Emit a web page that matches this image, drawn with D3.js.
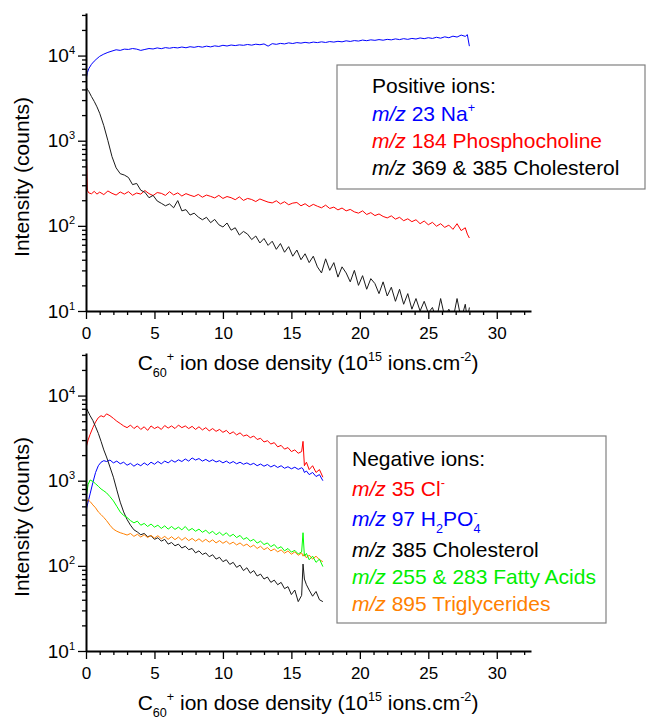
<!DOCTYPE html>
<html>
<head>
<meta charset="utf-8">
<script src="https://cdn.jsdelivr.net/npm/d3@7"></script>
<style>
  body { margin: 0; background: #fff; }
  svg { display: block; font-family: "Liberation Sans", Arial, sans-serif; }
</style>
</head>
<body>
<div id="chart"></div>
<script>
// ---- data ----
// upper panel: positive ions (dose in 1e15 ions/cm2, intensity in counts)
const doseTop = [0, 0.1, 0.2, 0.4, 0.6, 0.8, 1.0, 1.3, 1.6, 1.9, 2.2, 2.5, 2.8,
  3.1, 3.4, 3.7, 4.0, 4.3, 4.6, 4.9, 5.2, 5.5, 5.8, 6.1, 6.4, 6.7, 7.0, 7.3, 7.6, 7.9,
  8.2, 8.5, 8.8, 9.1, 9.4, 9.7, 10.0, 10.3, 10.6, 10.9, 11.2, 11.5, 11.8, 12.1, 12.4, 12.7,
  13.0, 13.3, 13.6, 13.9, 14.2, 14.5, 14.8, 15.1, 15.4, 15.7, 16.0, 16.3, 16.6, 16.9,
  17.2, 17.5, 17.8, 18.1, 18.4, 18.7, 19.0, 19.3, 19.6, 19.9, 20.2, 20.5, 20.8, 21.1,
  21.4, 21.7, 22.0, 22.3, 22.6, 22.9, 23.2, 23.5, 23.8, 24.1, 24.4, 24.7, 25.0, 25.3,
  25.6, 25.9, 26.2, 26.5, 26.8, 27.1, 27.4, 27.7, 27.85, 28.0]

const naTop = [5200, 6300, 7000, 7900, 8600, 9200, 9800, 10400, 10900, 11300, 11700, 11500, 11900,
  11800, 12100, 11900, 11500, 11800, 12100, 11950, 12300, 12050, 12400, 12200, 12450, 12300, 12600, 12350, 12700, 12500,
  12800, 12550, 12900, 12650, 13000, 12800, 13200, 12950, 13300, 13100, 13350, 13200, 13500, 13250, 13600, 13400,
  13700, 12900, 13800, 13550, 13900, 13700, 14100, 13850, 14200, 14000, 14300, 14050, 14400, 14200,
  14500, 14250, 14600, 14400, 14700, 14500, 14900, 14650, 15000, 14800, 15200, 14950, 15300, 15100,
  15400, 15150, 15500, 15300, 15700, 15400, 15800, 15500, 15900, 15650, 16100, 15800, 16200, 15900,
  16400, 16000, 16600, 16200, 16900, 16500, 17400, 16800, 17600, 12900]

const phosphoTop = [1000, 262, 244, 238, 254, 236, 249, 233, 257, 241, 230, 250, 236,
  252, 229, 243, 236, 260, 239, 227, 246, 241, 228, 252, 231, 244, 224, 239, 229, 221,
  234, 217, 230, 222, 213, 228, 210, 221, 214, 203, 219, 199, 210, 204, 193, 207,
  198, 190, 186, 197, 181, 192, 177, 185, 188, 172, 182, 168, 179, 170, 163, 175,
  160, 166, 154, 162, 150, 156, 146, 141, 150, 136, 143, 132, 138, 129, 124, 131,
  120, 126, 115, 121, 112, 118, 106, 114, 103, 110, 99, 106, 96, 102, 91, 106, 88, 95,
  80, 72]

const cholTop = [4300, 4000, 3800, 3300, 2900, 2500, 2100, 1500, 1000, 650, 480, 410, 395,
  370, 305, 315, 262, 248, 214, 228, 196, 184, 172, 181, 163, 198, 150, 155, 134, 141,
  127, 118, 126, 109, 119, 103, 97, 108, 89, 95, 78, 86, 80, 69, 76, 63,
  71, 59, 66, 53, 62, 49, 57, 44, 52, 40, 47, 37, 44, 33, 28, 41,
  30, 37, 25, 33, 28, 22, 30, 20, 26, 18, 24, 21, 16, 22, 15, 19,
  13, 18, 12, 16, 10.5, 14, 10, 13, 9.5, 11, 8, 14, 8.5, 10.5, 8, 14, 8, 12,
  8, 11]

// lower panel: negative ions
const doseBottom = [0, 0.05, 0.15, 0.3, 0.5, 0.7, 0.9, 1.1, 1.3, 1.5, 1.75, 2.0, 2.25, 2.5, 2.75, 3.0,
  3.25, 3.5, 3.75, 4.0, 4.25, 4.5, 4.75, 5.0, 5.25, 5.5, 5.75, 6.0, 6.25, 6.5, 6.75, 7.0,
  7.25, 7.5, 7.75, 8.0, 8.25, 8.5, 8.75, 9.0, 9.25, 9.5, 9.75, 10.0, 10.25, 10.5, 10.75, 11.0,
  11.25, 11.5, 11.75, 12.0, 12.25, 12.5, 12.75, 13.0, 13.25, 13.5, 13.75, 14.0, 14.25, 14.5,
  14.75, 15.0, 15.25, 15.5, 15.75, 15.85, 15.95, 16.1, 16.3, 16.55, 16.8, 17.05, 17.3]

const clBottom = [2300, 2600, 3000, 3500, 4200, 4900, 5500, 5800, 5600, 6100, 5800, 5400, 5000, 4700, 4400, 4200,
  4500, 4100, 4400, 4000, 4300, 3900, 4400, 4100, 4300, 4000, 4450, 4150, 4400, 4100, 4500, 4200,
  4400, 4100, 4350, 4000, 4300, 3950, 4200, 3850, 4100, 3800, 4000, 3700, 3900, 3550, 3750, 3450,
  3650, 3350, 3450, 3200, 3350, 3050, 3150, 2850, 2950, 2700, 2800, 2500, 2600, 2350,
  2450, 2200, 2300, 2100, 2200, 2900, 1500, 1650, 1350, 1500, 1250, 1350, 1100]

const h2po4Bottom = [420, 480, 560, 700, 950, 1250, 1500, 1650, 1720, 1680, 1750, 1620, 1700, 1580, 1650, 1520,
  1600, 1480, 1580, 1500, 1620, 1520, 1650, 1560, 1680, 1580, 1700, 1620, 1740, 1650, 1760, 1680,
  1800, 1700, 1850, 1750, 1820, 1700, 1780, 1680, 1760, 1660, 1720, 1620, 1700, 1600, 1680, 1580,
  1650, 1560, 1620, 1540, 1600, 1500, 1570, 1480, 1550, 1450, 1520, 1430, 1500, 1400,
  1460, 1380, 1440, 1360, 1420, 1380, 1250, 1300, 1180, 1250, 1120, 1180, 1000]

const cholBottom = [7300, 7000, 6500, 5800, 5100, 4300, 3600, 2900, 2300, 1900, 1450, 1100, 780, 560, 430, 350,
  300, 265, 250, 232, 240, 220, 226, 205, 214, 195, 205, 180, 188, 172, 180, 162,
  170, 155, 160, 142, 150, 136, 142, 128, 135, 120, 126, 112, 118, 104, 110, 96,
  102, 88, 95, 82, 88, 76, 80, 70, 74, 64, 68, 60, 64, 54,
  57, 46, 52, 38, 45, 105, 70, 60, 52, 44, 50, 40, 38]

const fattyBottom = [2200, 700, 900, 1020, 980, 920, 860, 800, 760, 720, 650, 580, 500, 430, 390, 370,
  340, 320, 335, 300, 315, 290, 310, 285, 300, 275, 295, 270, 290, 268, 285, 265,
  290, 260, 275, 255, 270, 248, 262, 240, 255, 232, 248, 228, 245, 222, 235, 215,
  228, 205, 215, 195, 205, 185, 195, 178, 186, 168, 178, 160, 168, 150,
  160, 145, 152, 138, 146, 245, 130, 140, 118, 130, 110, 120, 98]

const trigBottom = [440, 560, 600, 570, 520, 480, 430, 400, 370, 340, 300, 270, 255, 245, 238, 230,
  240, 222, 235, 218, 232, 215, 228, 212, 226, 208, 222, 205, 220, 203, 218, 200,
  215, 198, 210, 195, 208, 192, 205, 190, 202, 186, 198, 184, 195, 180, 190, 176,
  186, 172, 180, 166, 175, 160, 170, 155, 164, 150, 158, 146, 154, 141,
  150, 137, 146, 133, 142, 130, 138, 124, 134, 120, 130, 118, 112]

// ticks
const xMajorTicks = [0, 5, 10, 15, 20, 25, 30]
const xMinorTicks = [1, 2, 3, 4, 6, 7, 8, 9, 11, 12, 13, 14, 16, 17, 18, 19, 21, 22, 23, 24, 26, 27, 28, 29, 31, 32]
const yMajorTicks = [10, 100, 1000, 10000]
const yMinorTicks = [20, 30, 40, 50, 60, 70, 80, 90, 200, 300, 400, 500, 600, 700, 800, 900,
  2000, 3000, 4000, 5000, 6000, 7000, 8000, 9000, 20000, 30000]

// legends (*...* italic, ^{} superscript, _{} subscript, ~{} superscript stacked on previous subscript)
const topLegendTitle = "Positive ions:"
const topLegendLabels = ["*m/z* 23 Na^{+}", "*m/z* 184 Phosphocholine", "*m/z* 369 & 385 Cholesterol"]
const topColors = ["#0000ff", "#ff0000", "#000000"]

const bottomLegendTitle = "Negative ions:"
const bottomLegendLabels = ["*m/z* 35 Cl^{-}", "*m/z* 97 H_{2}PO_{4}~{-}", "*m/z* 385 Cholesterol",
  "*m/z* 255 & 283 Fatty Acids", "*m/z* 895 Triglycerides"]
const bottomColors = ["#ff0000", "#0000ff", "#000000", "#00ee00", "#ff8000"]

const xTitle = "C_{60}^{+} ion dose density (10^{15} ions.cm^{-2})"
const yTitle = "Intensity (counts)"

// ---- drawing ----
const width = 648, height = 719

const svg = d3.select("#chart").append("svg")
    .attr("width", width)
    .attr("height", height)

const x = d3.scaleLinear().domain([0, 32.5]).range([86, 531])

function richText(sel, str, size) {
    const parts = str.split(/(\*[^*]+\*|\^\{[^}]*\}|_\{[^}]*\}|~\{[^}]*\})/).filter(s => s.length)
    let shift = 0, prevSub = null
    parts.forEach(p => {
        let target = 0, txt = p, small = false
        const kind = p[0]
        if (kind === "*") txt = p.slice(1, -1)
        else if (kind === "^" || kind === "~") { target = -0.42 * size; txt = p.slice(2, -1); small = true }
        else if (kind === "_") { target = 0.32 * size; txt = p.slice(2, -1); small = true }
        const ts = sel.append("tspan").attr("dy", target - shift).text(txt)
        if (small) ts.attr("font-size", size * 0.6)
        if (kind === "*") ts.attr("font-style", "italic")
        if (kind === "~" && prevSub) ts.attr("dx", -prevSub.node().getComputedTextLength())
        prevSub = kind === "_" ? ts : null
        shift = target
    })
}

function drawPanel(id, top, bottom, dose, series, legend) {
    const y = d3.scaleLog().domain([10, Math.pow(10, 4.5)]).range([bottom, top])
    const g = svg.append("g").attr("id", id)

    g.append("defs").append("clipPath").attr("id", id + "-clip")
        .append("rect")
        .attr("x", x.range()[0]).attr("y", top)
        .attr("width", x.range()[1] - x.range()[0]).attr("height", bottom - top)

    const line = d3.line()
        .x((d, i) => x(dose[i]))
        .y(d => y(d))

    g.append("g")
        .attr("clip-path", `url(#${id}-clip)`)
        .selectAll("path")
        .data(series)
        .join("path")
        .attr("d", d => line(d.values))
        .attr("fill", "none")
        .attr("stroke", d => d.color)
        .attr("stroke-width", 1)
        .attr("stroke-linejoin", "round")

    // x axis: minor then major
    g.append("g")
        .attr("transform", `translate(0,${bottom})`)
        .call(d3.axisBottom(x).tickValues(xMinorTicks).tickSize(4).tickFormat(""))
        .call(a => a.select(".domain").remove())
    const xa = g.append("g")
        .attr("transform", `translate(0,${bottom})`)
        .call(d3.axisBottom(x).tickValues(xMajorTicks).tickSize(8).tickSizeOuter(0).tickPadding(8))
    xa.select(".domain").attr("stroke-width", 2)
    xa.selectAll("text").attr("font-size", 17).attr("fill", "#000")
        .attr("font-family", "Liberation Sans, Arial, sans-serif")

    // y axis
    g.append("g")
        .attr("transform", `translate(${x.range()[0]},0)`)
        .call(d3.axisLeft(y).tickValues(yMinorTicks).tickSize(4).tickFormat(""))
        .call(a => a.select(".domain").remove())
    const ya = g.append("g")
        .attr("transform", `translate(${x.range()[0]},0)`)
        .call(d3.axisLeft(y).tickValues(yMajorTicks).tickSize(8).tickSizeOuter(0).tickPadding(3).tickFormat(""))
    ya.select(".domain").attr("stroke-width", 2)
    ya.selectAll("text")
        .attr("font-size", 19).attr("fill", "#000")
        .attr("font-family", "Liberation Sans, Arial, sans-serif")
        .each(function (d) {
            const t = d3.select(this)
            t.append("tspan").text("10")
            t.append("tspan").attr("dy", -8).attr("font-size", 11).text(Math.round(Math.log10(d)))
        })
    g.selectAll(".tick line").attr("stroke-width", 1.3)

    // axis titles
    const xt = g.append("text")
        .attr("x", 308).attr("y", bottom + 59)
        .attr("text-anchor", "middle")
        .attr("font-size", 21)
    richText(xt, xTitle, 21)

    g.append("text")
        .attr("transform", `translate(29,${(top + bottom) / 2 + 15}) rotate(-90)`)
        .attr("text-anchor", "middle")
        .attr("font-size", 21)
        .text(yTitle)

    // legend box
    g.append("rect")
        .attr("x", legend.x0).attr("y", legend.y0)
        .attr("width", legend.x1 - legend.x0).attr("height", legend.y1 - legend.y0)
        .attr("fill", "#fff")
        .attr("stroke", "#808080")
        .attr("stroke-width", 1.2)

    g.append("text")
        .attr("x", legend.tx).attr("y", legend.baselines[0])
        .attr("font-size", 21)
        .text(legend.title)

    legend.labels.forEach((lab, i) => {
        const t = g.append("text")
            .attr("x", legend.tx).attr("y", legend.baselines[i + 1])
            .attr("font-size", 21)
            .attr("fill", legend.colors[i])
        richText(t, lab, 21)
    })
}

drawPanel("top", 13, 311, doseTop, [
    { values: naTop, color: topColors[0] },
    { values: phosphoTop, color: topColors[1] },
    { values: cholTop, color: "#1a1a1a" }
], {
    x0: 337, x1: 645, y0: 65, y1: 189, tx: 372,
    baselines: [93, 121, 148, 175],
    title: topLegendTitle, labels: topLegendLabels, colors: topColors
})

drawPanel("bottom", 353, 651, doseBottom, [
    { values: clBottom, color: bottomColors[0] },
    { values: h2po4Bottom, color: bottomColors[1] },
    { values: cholBottom, color: "#1a1a1a" },
    { values: trigBottom, color: bottomColors[4] },
    { values: fattyBottom, color: "#00ff00" }
], {
    x0: 337, x1: 606, y0: 436, y1: 623, tx: 352,
    baselines: [466, 496, 526, 557, 584, 611],
    title: bottomLegendTitle, labels: bottomLegendLabels, colors: bottomColors
})
</script>
</body>
</html>
